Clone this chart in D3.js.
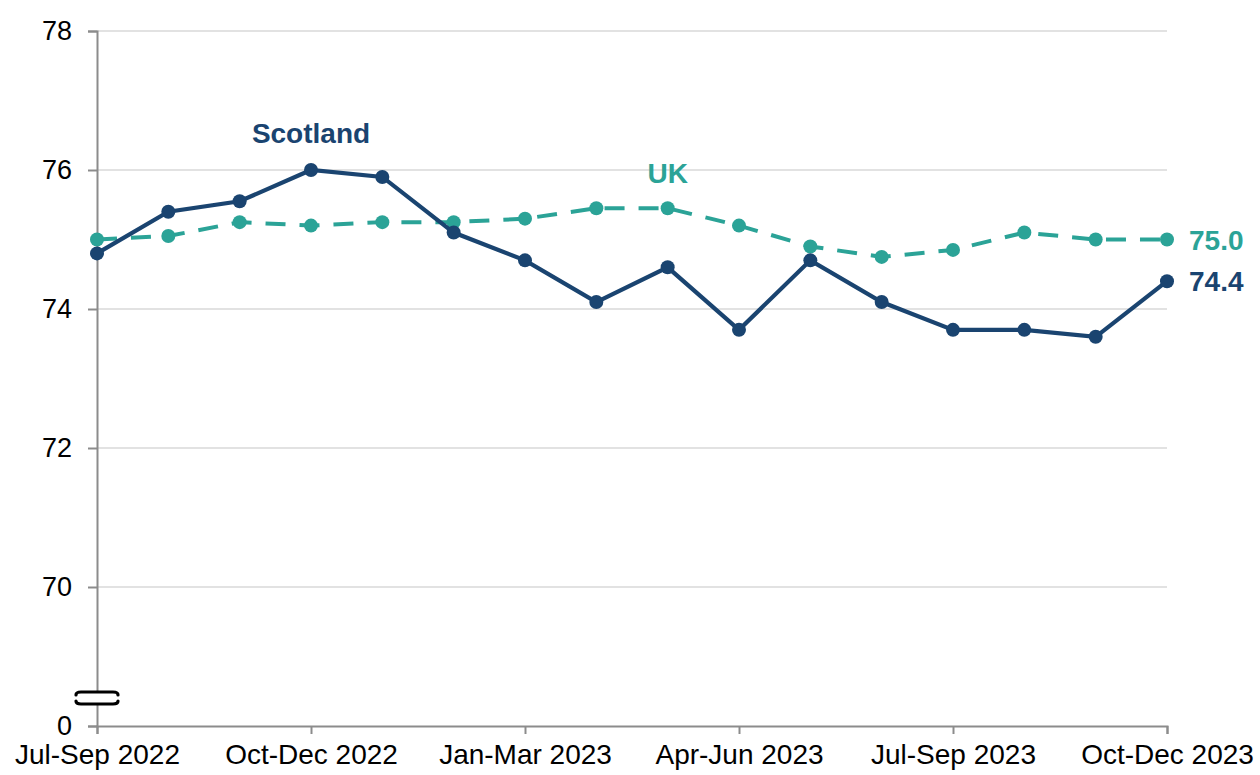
<!doctype html>
<html lang="en">
<head>
  <meta charset="UTF-8">
  <title>Employment rate, Scotland and UK</title>
<style>
  body { margin: 0; background: #fff; }
  text { font-family: "Liberation Sans", Arial, sans-serif; }
  .grid line { stroke: #d9d9d9; stroke-width: 1.5px; }
  .axis path, .axis line { stroke: #8c8c8c; stroke-width: 2px; fill: none; }
  .axis text { font-size: 27px; fill: #000; }
  .x.axis text { font-size: 28px; }
</style>
</head>
<body>
<script src="https://d3js.org/d3.v7.min.js"></script>
<script>
var periods = ["Jul-Sep 2022", "Aug-Oct 2022", "Sep-Nov 2022", "Oct-Dec 2022", "Nov-Jan 2023",
  "Dec-Feb 2023", "Jan-Mar 2023", "Feb-Apr 2023", "Mar-May 2023", "Apr-Jun 2023",
  "May-Jul 2023", "Jun-Aug 2023", "Jul-Sep 2023", "Aug-Oct 2023", "Sep-Nov 2023", "Oct-Dec 2023"];
var tickLabels = ["Jul-Sep 2022", "Oct-Dec 2022", "Jan-Mar 2023", "Apr-Jun 2023", "Jul-Sep 2023", "Oct-Dec 2023"];
var scotland = [74.8, 75.4, 75.55, 76.0, 75.9, 75.1, 74.7, 74.1, 74.6, 73.7, 74.7, 74.1, 73.7, 73.7, 73.6, 74.4];
var uk = [75.0, 75.05, 75.25, 75.2, 75.25, 75.25, 75.3, 75.45, 75.45, 75.2, 74.9, 74.75, 74.85, 75.1, 75.0, 75.0];
// the axis is broken: the bottom position (68) is labelled 0
var yTicks = [68, 70, 72, 74, 76, 78];

var scotColor = "#1a4470", ukColor = "#2ba397";

var margin = {top: 31, right: 93, bottom: 49, left: 97},
    width = 1260 - margin.left - margin.right,
    height = 775 - margin.top - margin.bottom;

var svg = d3.select("body").append("svg")
    .attr("width", 1260)
    .attr("height", 775)
  .append("g")
    .attr("transform", "translate(" + margin.left + "," + margin.top + ")");

var x = d3.scalePoint().domain(periods).range([0, width]);
var y = d3.scaleLinear().domain([68, 78]).range([height, 0]);

svg.append("g")
    .attr("class", "grid")
  .selectAll("line")
  .data(yTicks.filter(function(d) { return d > 68; }))
  .enter().append("line")
    .attr("x1", 0).attr("x2", width)
    .attr("y1", function(d) { return y(d); })
    .attr("y2", function(d) { return y(d); });

svg.append("g")
    .attr("class", "y axis")
    .call(d3.axisLeft(y).tickValues(yTicks).tickSizeInner(9).tickSizeOuter(9).tickPadding(16)
      .tickFormat(function(d) { return d === 68 ? "0" : d; }));

svg.append("g")
    .attr("class", "x axis")
    .attr("transform", "translate(0," + height + ")")
    .call(d3.axisBottom(x).tickValues(tickLabels).tickSizeInner(8).tickSizeOuter(8).tickPadding(10));

// axis break marks
var breakG = svg.append("g").attr("transform", "translate(0," + (y(68) - 28) + ")");
breakG.append("rect").attr("x", -21).attr("y", -6).attr("width", 42).attr("height", 12).attr("fill", "#fff");
[-6, 6].forEach(function(o) {
  var e = o + (o < 0 ? 3 : -3);
  breakG.append("path")
      .attr("d", "M-21," + e + " Q-21," + o + " -16," + o + " L16," + o + " Q21," + o + " 21," + e)
      .attr("fill", "none").attr("stroke", "#000").attr("stroke-width", 3.2).attr("stroke-linecap", "round");
});

var line = d3.line()
    .x(function(d, i) { return x(periods[i]); })
    .y(function(d) { return y(d); });

svg.append("path").datum(uk)
    .attr("d", line).attr("fill", "none")
    .attr("stroke", ukColor).attr("stroke-width", 4)
    .attr("stroke-dasharray", "20,14");
svg.append("g").selectAll("circle").data(uk).enter().append("circle")
    .attr("cx", function(d, i) { return x(periods[i]); })
    .attr("cy", function(d) { return y(d); })
    .attr("r", 7).attr("fill", ukColor);

svg.append("path").datum(scotland)
    .attr("d", line).attr("fill", "none")
    .attr("stroke", scotColor).attr("stroke-width", 4.2);
svg.append("g").selectAll("circle").data(scotland).enter().append("circle")
    .attr("cx", function(d, i) { return x(periods[i]); })
    .attr("cy", function(d) { return y(d); })
    .attr("r", 7).attr("fill", scotColor);

// series labels
svg.append("text")
    .attr("x", x("Oct-Dec 2022")).attr("y", y(76) - 27)
    .attr("text-anchor", "middle").attr("font-size", 28).attr("font-weight", "bold")
    .attr("fill", scotColor).text("Scotland");
svg.append("text")
    .attr("x", x("Mar-May 2023")).attr("y", y(76) + 13)
    .attr("text-anchor", "middle").attr("font-size", 28).attr("font-weight", "bold")
    .attr("fill", ukColor).text("UK");

var last = periods.length - 1;
svg.append("text")
    .attr("x", x(periods[last]) + 22).attr("y", y(uk[last])).attr("dy", "0.36em")
    .attr("font-size", 28).attr("font-weight", "bold")
    .attr("fill", ukColor).text(uk[last].toFixed(1));
svg.append("text")
    .attr("x", x(periods[last]) + 22).attr("y", y(scotland[last])).attr("dy", "0.36em")
    .attr("font-size", 28).attr("font-weight", "bold")
    .attr("fill", scotColor).text(scotland[last].toFixed(1));
</script>
</body>
</html>
